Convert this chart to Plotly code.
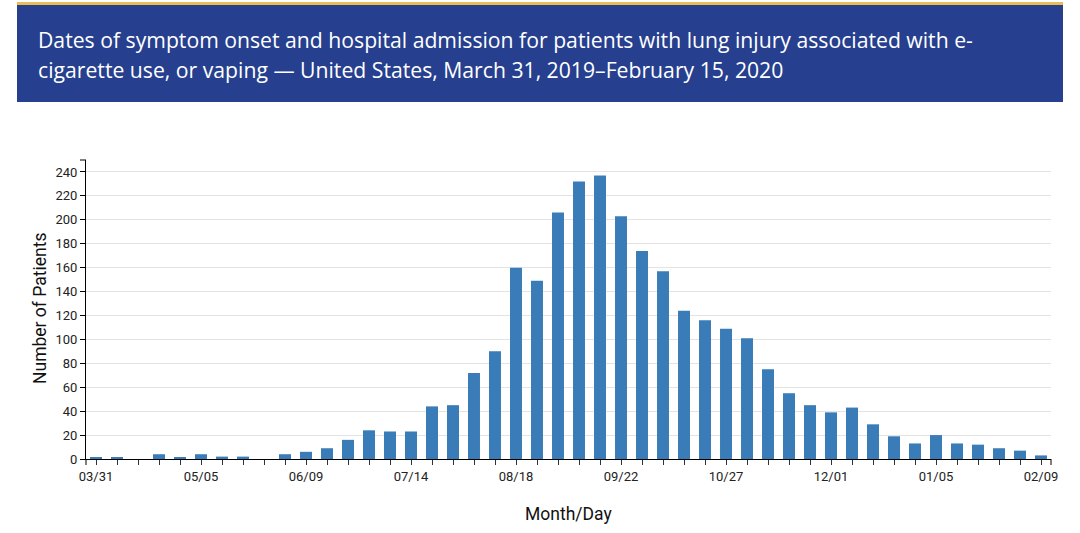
import plotly.graph_objects as go
from datetime import date, timedelta

# Week start dates (Month/Day), March 31, 2019 – February 9, 2020
start = date(2019, 3, 31)
weeks = [(start + timedelta(days=7 * i)).strftime("%m/%d") for i in range(46)]

patients = [1, 1, 0, 4, 1, 4, 2, 2, 0, 4,
            6, 9, 16, 24, 23, 23, 44, 45, 72, 90,
            160, 149, 206, 232, 237, 203, 174, 157, 124, 116,
            109, 101, 75, 55, 45, 39, 43, 29, 19, 13,
            20, 13, 12, 9, 7, 3]

tick_text = [w if i % 5 == 0 else "" for i, w in enumerate(weeks)]
y_ticks = list(range(0, 241, 20))

title_line1 = "Dates of symptom onset and hospital admission for patients with lung injury associated with e-"
title_line2 = "cigarette use, or vaping \u2014 United States, March 31, 2019\u2013February 15, 2020"

W, H = 1080, 533
L, R, T, B = 86, 1051, 160, 459


def px(x):
    return (x - L) / (R - L)


def py(y):
    return (B - y) / (B - T)


fig = go.Figure()
fig.add_trace(go.Bar(
    x=weeks, y=patients,
    marker=dict(color="#3a7cb8", line=dict(width=0)),
    width=0.57,
    hoverinfo="x+y",
))

shapes = [
    # banner
    dict(type="rect", xref="paper", yref="paper", x0=px(17), x1=px(1063), y0=py(102), y1=py(5),
         fillcolor="#263f8e", line=dict(width=0), layer="below"),
    dict(type="rect", xref="paper", yref="paper", x0=px(17), x1=px(1063), y0=py(5), y1=py(2),
         fillcolor="#e9bd55", line=dict(width=0), layer="below"),
    # outer ticks of axis domains
    dict(type="line", xref="paper", yref="paper", x0=px(80), x1=px(86), y0=1, y1=1,
         line=dict(color="#000", width=1)),
    dict(type="line", xref="paper", yref="paper", x0=0, x1=0, y0=0, y1=py(465),
         line=dict(color="#000", width=1)),
    dict(type="line", xref="paper", yref="paper", x0=1, x1=1, y0=0, y1=py(465),
         line=dict(color="#000", width=1)),
]

annotations = [
    dict(text=title_line1, xref="paper", yref="paper", x=px(36), y=py(39), xanchor="left", yanchor="middle",
         showarrow=False, font=dict(family="Open Sans", size=21.2, color="white")),
    dict(text=title_line2, xref="paper", yref="paper", x=px(36), y=py(69), xanchor="left", yanchor="middle",
         showarrow=False, font=dict(family="Open Sans", size=21.2, color="white")),
    dict(text="Number of Patients", xref="paper", yref="paper", x=px(40), y=py(309), xanchor="center",
         yanchor="middle", textangle=-90, showarrow=False, font=dict(family="Roboto", size=17.5, color="#111")),
    dict(text="Month/Day", xref="paper", yref="paper", x=px(568), y=py(514), xanchor="center",
         yanchor="middle", showarrow=False, font=dict(family="Roboto", size=17.5, color="#111")),
]

fig.update_layout(
    width=W, height=H,
    margin=dict(l=L, r=W - R, t=T, b=H - B, pad=0),
    paper_bgcolor="white", plot_bgcolor="white",
    showlegend=False,
    bargap=0.43,
    shapes=shapes,
    annotations=annotations,
    font=dict(family="Roboto", size=13, color="#222"),
    xaxis=dict(
        type="category",
        range=[-0.476, 45.476],
        tickmode="array", tickvals=weeks, ticktext=tick_text,
        ticks="outside", ticklen=5, tickcolor="#333", tickwidth=1,
        showline=True, linecolor="#000", linewidth=1,
        showgrid=False, zeroline=False,
        tickfont=dict(family="Roboto", size=13, color="#222"),
        fixedrange=True,
    ),
    yaxis=dict(
        range=[0, 250],
        tickmode="array", tickvals=y_ticks,
        ticks="outside", ticklen=5, tickcolor="#000", tickwidth=1,
        showline=True, linecolor="#000", linewidth=1,
        showgrid=True, gridcolor="#e3e3e3", gridwidth=1,
        zeroline=False,
        tickfont=dict(family="Roboto", size=13, color="#222"),
        fixedrange=True,
    ),
)

fig.write_html("out.html", config={"displayModeBar": False})
